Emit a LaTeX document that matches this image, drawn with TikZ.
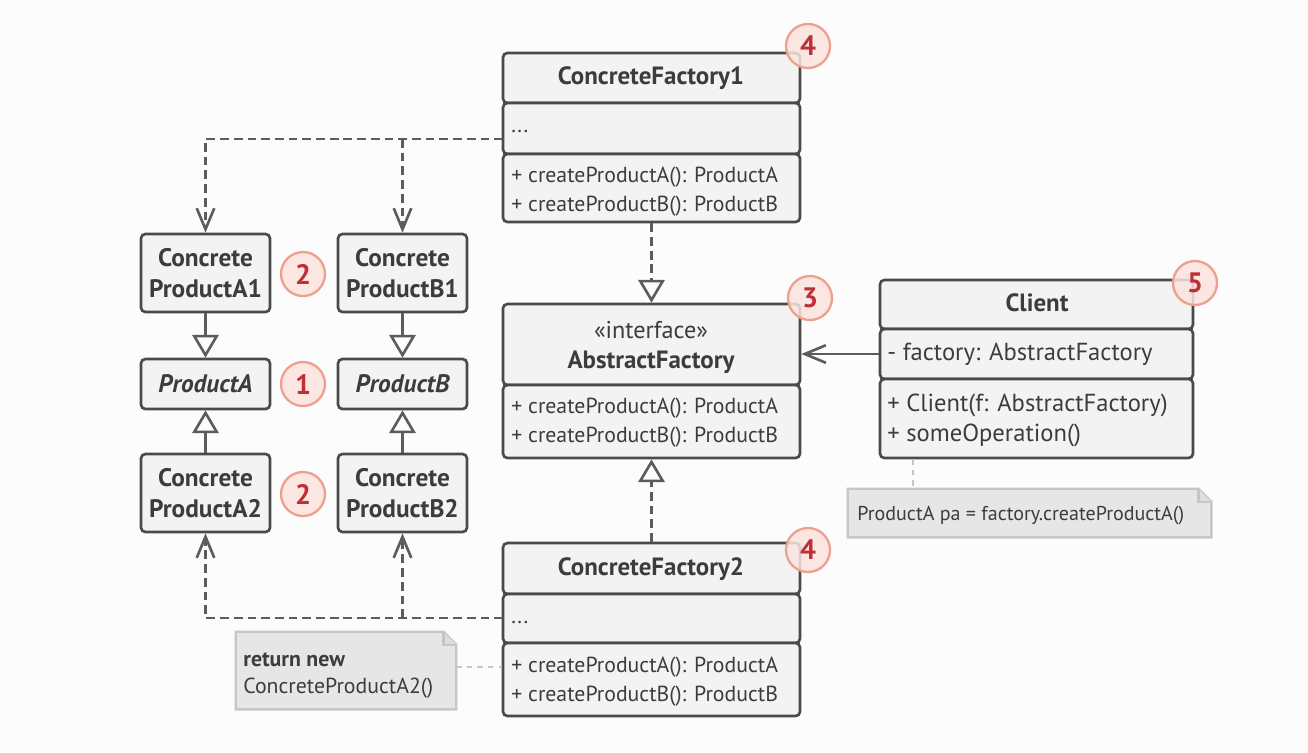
\documentclass[tikz,border=0pt]{standalone}
\usepackage{fontspec}
\setmainfont{PT Sans}
\usetikzlibrary{arrows.meta,fit}
\definecolor{bg}{HTML}{FCFCFC}
\definecolor{boxfill}{HTML}{F3F3F3}
\definecolor{boxline}{HTML}{4A4A4A}
\definecolor{txt}{HTML}{3C3C3C}
\definecolor{connc}{HTML}{5C5C5C}
\definecolor{notefill}{HTML}{E6E6E6}
\definecolor{noteline}{HTML}{C6C6C6}
\definecolor{badgefill}{HTML}{FBE3DE}
\definecolor{badgeline}{HTML}{EDA08D}
\definecolor{badgetxt}{HTML}{BF2F38}
\tikzset{
 comp/.style={draw=boxline, fill=boxfill, line width=1.5pt, rounded corners=2.5pt, inner sep=0pt},
 lbl/.style={text=txt, font=\fontsize{12.4}{14}\selectfont, inner sep=0pt, anchor=west},
 nlbl/.style={text=txt, font=\fontsize{11.4}{13}\selectfont, inner sep=0pt, anchor=west},
 clbl/.style={text=txt, font=\fontsize{14}{16}\selectfont, inner sep=0pt, anchor=west},
 ttl/.style={text=txt, font=\bfseries\fontsize{14.2}{16}\selectfont, inner sep=0pt, align=center},
 ptl/.style={text=txt, font=\bfseries\fontsize{14.4}{18}\selectfont, inner sep=0pt, align=center},
 badge/.style={circle, draw=badgeline, fill=badgefill, fill opacity=0.85, text opacity=1, line width=1.3pt, minimum size=0.88cm, inner sep=0pt, text=badgetxt, font=\bfseries\fontsize{16}{16}\selectfont},
 conn/.style={draw=connc, line width=1.5pt},
 dconn/.style={conn, dash pattern=on 5pt off 2.8pt},
 openarrow/.style={-{Straight Barb[length=12pt,width=10pt,line width=1.5pt]}},
 hollow/.style={-{Triangle[open, length=13pt, width=15pt, fill=bg, line width=1.5pt]}},
 notebox/.style={inner sep=0pt},
 notedraw/.style={draw=noteline, fill=notefill, line width=1.3pt},
 notelink/.style={draw=noteline, line width=1.3pt, dash pattern=on 3pt off 3pt},
}
\begin{document}
\begin{tikzpicture}[x=0.02cm, y=-0.02cm]
\fill[bg] (0,0) rectangle (1308,752);
\useasboundingbox (0,0) rectangle (1308,752);

% ConcreteFactory1
\node[comp, fit={(503,53)(800,103)}] (cf1h) {};
\node[comp, fit={(503,103)(800,154)}] (cf1a) {};
\node[comp, fit={(503,154)(800,222)}] (cf1m) {};
\node[ttl] (cf1t) at (651,78) {ConcreteFactory1};
\node[lbl] (cf1d) at (511,131) {...};
\node[lbl] (cf1m1) at (511,177) {+ createProductA(): ProductA};
\node[lbl] (cf1m2) at (511,206) {+ createProductB(): ProductB};

% AbstractFactory
\node[comp, fit={(503,304)(800,385)}] (afh) {};
\node[comp, fit={(503,385)(800,458)}] (afm) {};
\node[text=txt, font=\fontsize{13.8}{16}\selectfont, inner sep=0pt] (afs) at (651,330) {«interface»};
\node[ttl] (aft) at (651,362) {AbstractFactory};
\node[lbl] (afm1) at (511,408) {+ createProductA(): ProductA};
\node[lbl] (afm2) at (511,437) {+ createProductB(): ProductB};

% ConcreteFactory2
\node[comp, fit={(503,543)(800,594)}] (cf2h) {};
\node[comp, fit={(503,594)(800,643)}] (cf2a) {};
\node[comp, fit={(503,643)(800,716)}] (cf2m) {};
\node[ttl] (cf2t) at (651,569) {ConcreteFactory2};
\node[lbl] (cf2d) at (511,622) {...};
\node[lbl] (cf2m1) at (511,667) {+ createProductA(): ProductA};
\node[lbl] (cf2m2) at (511,696) {+ createProductB(): ProductB};

% Client
\node[comp, fit={(880,280)(1193,329)}] (clh) {};
\node[comp, fit={(880,329)(1193,379)}] (cla) {};
\node[comp, fit={(880,379)(1193,458)}] (clm) {};
\node[ttl] (clt) at (1037,303) {Client};
\node[clbl] (cla1) at (887,354) {- factory: AbstractFactory};
\node[clbl] (clm1) at (887,405) {+ Client(f: AbstractFactory)};
\node[clbl] (clm2) at (887,435) {+ someOperation()};

% Products
\node[comp, fit={(141,234)(270,312)}] (a1) {};
\node[comp, fit={(141,359)(270,409)}] (pa) {};
\node[comp, fit={(141,454)(270,532)}] (a2) {};
\node[comp, fit={(338,234)(467,312)}] (b1) {};
\node[comp, fit={(338,359)(467,409)}] (pb) {};
\node[comp, fit={(338,454)(467,532)}] (b2) {};
\node[ptl] (a1t) at (205.5,273) {Concrete\\ProductA1};
\node[ptl] (a2t) at (205.5,493) {Concrete\\ProductA2};
\node[ptl] (b1t) at (402.5,273) {Concrete\\ProductB1};
\node[ptl] (b2t) at (402.5,493) {Concrete\\ProductB2};
\node[ptl, font=\bfseries\itshape\fontsize{14.4}{18}\selectfont] (pat) at (205.5,384) {ProductA};
\node[ptl, font=\bfseries\itshape\fontsize{14.4}{18}\selectfont] (pbt) at (402.5,384) {ProductB};

% Notes
\node[notebox, fit={(848,489)(1211,537)}] (n1) {};
\draw[notedraw] (n1.south west) -- (n1.north west) -- ([xshift=-0.26cm]n1.north east) -- ([yshift=-0.26cm]n1.north east) -- (n1.south east) -- cycle;
\draw[notedraw, fill=noteline!60] ([xshift=-0.26cm]n1.north east) -- ([xshift=-0.26cm,yshift=-0.26cm]n1.north east) -- ([yshift=-0.26cm]n1.north east);
\node[nlbl] (n1t) at (857,516) {ProductA pa = factory.createProductA()};

\node[notebox, fit={(236,632)(456,709)}] (n2) {};
\draw[notedraw] (n2.south west) -- (n2.north west) -- ([xshift=-0.26cm]n2.north east) -- ([yshift=-0.26cm]n2.north east) -- (n2.south east) -- cycle;
\draw[notedraw, fill=noteline!60] ([xshift=-0.26cm]n2.north east) -- ([xshift=-0.26cm,yshift=-0.26cm]n2.north east) -- ([yshift=-0.26cm]n2.north east);
\node[nlbl, font=\bfseries\fontsize{12.4}{14}\selectfont] (n2t1) at (243,660) {return new};
\node[nlbl, font=\fontsize{12.4}{14}\selectfont] (n2t2) at (243,688) {ConcreteProductA2()};

% Badges
\node[badge] (bg4a) at (808,46) {4};
\node[badge] (bg3) at (810,298) {3};
\node[badge] (bg4b) at (808,550) {4};
\node[badge] (bg5) at (1195,283) {5};
\node[badge] (bg2a) at (303,274) {2};
\node[badge] (bg1) at (303,384) {1};
\node[badge] (bg2b) at (303,494) {2};

% Connectors
\coordinate (j1) at (503,139);
\coordinate (j2) at (503,618);
\draw[dconn, openarrow] (j1) -| (a1.north);
\draw[dconn, openarrow] (j1 -| b1.north) -- (b1.north);
\draw[dconn, openarrow] (j2) -| (a2.south);
\draw[dconn, openarrow] (j2 -| b2.south) -- (b2.south);

\draw[conn, hollow] (a1.south) -- (pa.north);
\draw[conn, hollow] (a2.north) -- (pa.south);
\draw[conn, hollow] (b1.south) -- (pb.north);
\draw[conn, hollow] (b2.north) -- (pb.south);

\draw[dconn, hollow] (cf1m.south) -- (afh.north);
\draw[dconn, hollow] (cf2h.north) -- (afm.south);

\draw[conn, openarrow] (cla.west) -- (cla.west -| afh.east);

\coordinate (nl1) at (913,0);
\draw[notelink] (clm.south -| nl1) -- (n1.north -| nl1);
\coordinate (nl2) at (0,667);
\draw[notelink] (n2.east |- nl2) -- (cf2m.west |- nl2);
\end{tikzpicture}
\end{document}
